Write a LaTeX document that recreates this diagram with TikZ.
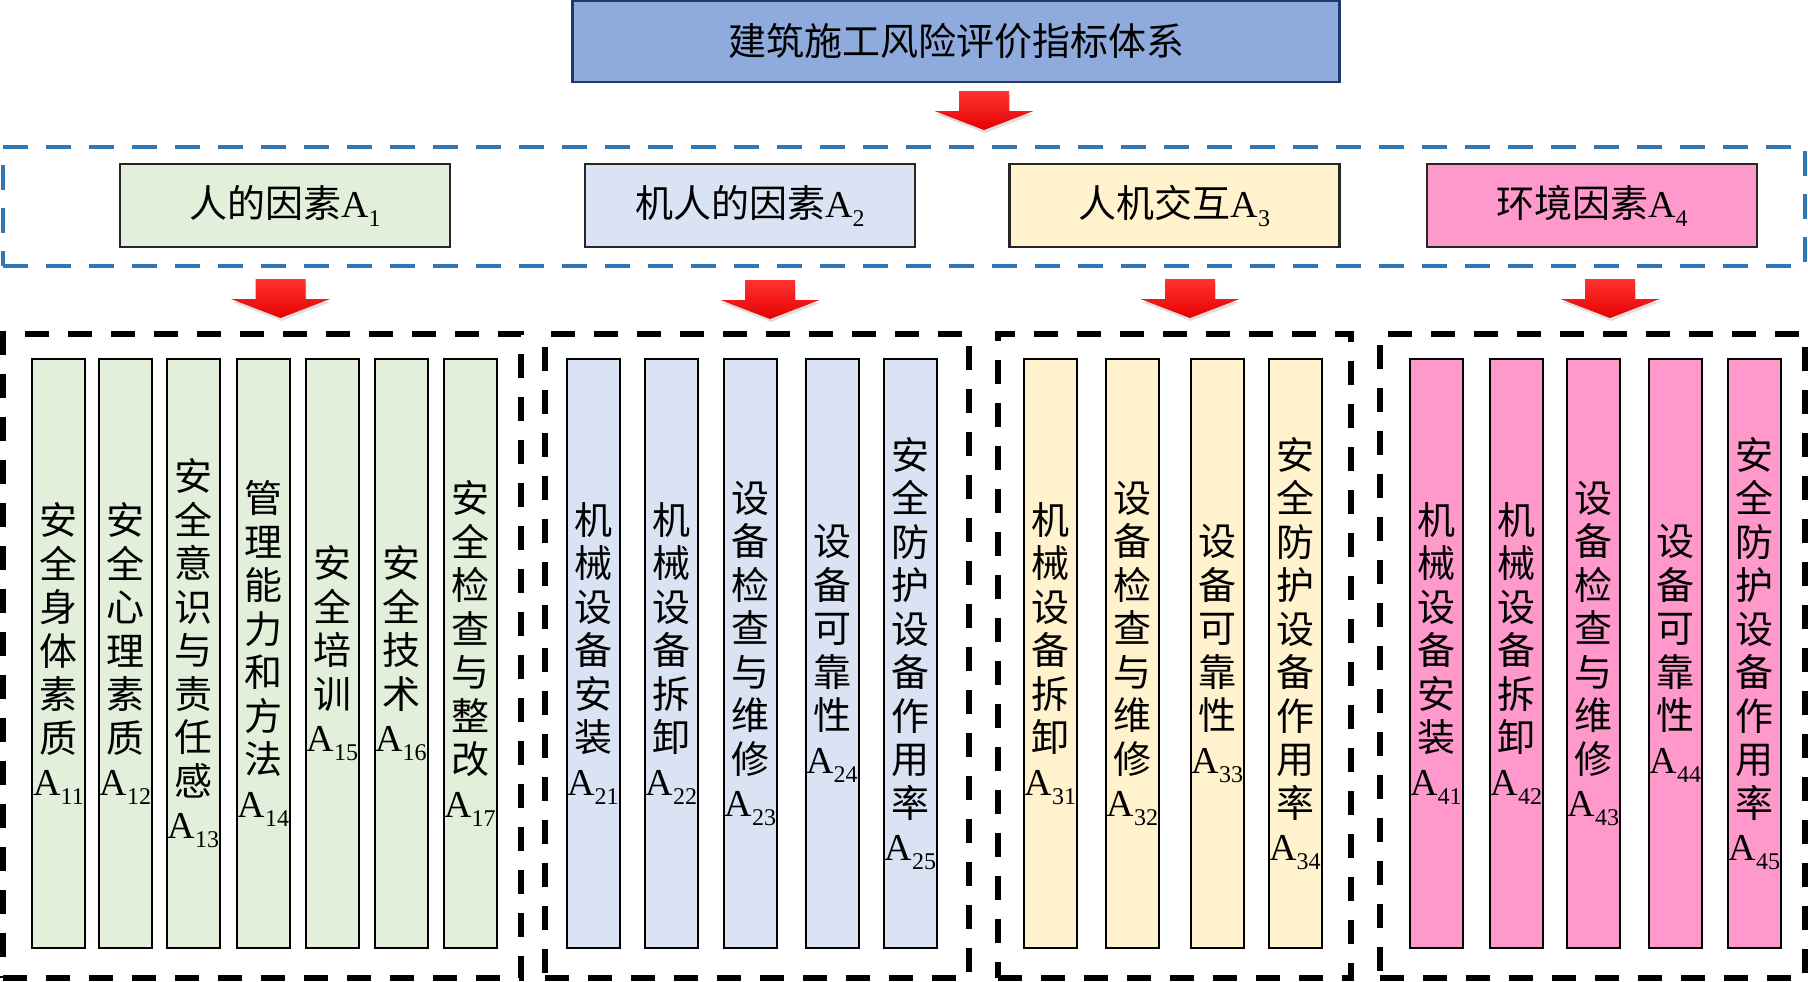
\documentclass[tikz,border=0pt]{standalone}
\usepackage{fontspec}
\setmainfont{Liberation Serif}
\newfontfamily\cjk{Noto Sans CJK SC}
\usepackage{tikz}
\usetikzlibrary{shadows}
\definecolor{rootblue}{RGB}{143,170,220}
\definecolor{rootline}{RGB}{31,56,100}
\definecolor{bandblue}{RGB}{46,117,182}
\definecolor{humangreen}{RGB}{226,239,218}
\definecolor{robotblue}{RGB}{218,227,243}
\definecolor{hriyellow}{RGB}{255,242,204}
\definecolor{envpink}{RGB}{255,153,204}
\definecolor{arrowred}{RGB}{255,0,0}
\newcommand{\Aidx}[1]{{\rmfamily A\raisebox{-4.5pt}{\fontsize{12}{12}\selectfont #1}}}

\begin{document}
\begin{tikzpicture}[x=0.5pt,y=-0.5pt,
 rootbox/.style={draw=rootline,line width=1.2pt,fill=rootblue,minimum width=383.5pt,minimum height=40.5pt,font=\cjk\fontsize{19}{22}\selectfont},
 factorbox/.style={draw=black!85,line width=1.2pt,minimum width=165pt,minimum height=41.5pt,font=\cjk\fontsize{19}{22}\selectfont},
 leafbox/.style={draw=black,line width=1pt,minimum width=26.5pt,minimum height=294.5pt,inner sep=0pt,align=center,font=\cjk\fontsize{19}{21.75}\selectfont},
 bandbox/.style={draw=bandblue,line width=2pt,dash pattern=on 12.5pt off 9pt,minimum width=901pt,minimum height=59.5pt},
 groupbox/.style={draw=black,line width=3pt,dash pattern=on 12pt off 9.5pt,minimum height=322pt},
 redarrow/.pic={\shade[top color=arrowred!80!white,bottom color=arrowred!90!black,drop shadow={opacity=0.25,shadow xshift=0.5pt,shadow yshift=-1.5pt}]
   (-25,0) -- (25,0) -- (25,20) -- (49.5,20) -- (0,39) -- (-49.5,20) -- (-25,20) -- cycle;}
]
\useasboundingbox (0,0) rectangle (1808,981);
% top level
\node[rootbox] (root) at (956,41.5) {建筑施工风险评价指标体系};
\pic at (984,91) {redarrow};
\node[bandbox] (band) at (904,206.5) {};
\node[factorbox,fill=humangreen] (A1) at (285,205.5) {人的因素\Aidx{1}};
\node[factorbox,fill=robotblue] (A2) at (750,205.5) {机人的因素\Aidx{2}};
\node[factorbox,fill=hriyellow] (A3) at (1174.5,205.5) {人机交互\Aidx{3}};
\node[factorbox,fill=envpink] (A4) at (1592,205.5) {环境因素\Aidx{4}};
\pic at (280.5,279) {redarrow}; \pic at (770,280) {redarrow};
\pic at (1190,279) {redarrow}; \pic at (1610,279) {redarrow};
% groups
\node[groupbox,minimum width=259pt] (g1) at (262,656) {};
\node[groupbox,minimum width=212pt] (g2) at (757,656) {};
\node[groupbox,minimum width=176.5pt] (g3) at (1174.5,656) {};
\node[groupbox,minimum width=212.5pt] (g4) at (1592.5,656) {};
% A1
\node[leafbox,fill=humangreen] (a11) at (58.5,653.5) {安\\全\\身\\体\\素\\质\\\Aidx{11}};
\node[leafbox,fill=humangreen] (a12) at (125.5,653.5) {安\\全\\心\\理\\素\\质\\\Aidx{12}};
\node[leafbox,fill=humangreen] (a13) at (193.5,653.5) {安\\全\\意\\识\\与\\责\\任\\感\\\Aidx{13}};
\node[leafbox,fill=humangreen] (a14) at (263.5,653.5) {管\\理\\能\\力\\和\\方\\法\\\Aidx{14}};
\node[leafbox,fill=humangreen] (a15) at (332.5,653.5) {安\\全\\培\\训\\\Aidx{15}};
\node[leafbox,fill=humangreen] (a16) at (401,653.5) {安\\全\\技\\术\\\Aidx{16}};
\node[leafbox,fill=humangreen] (a17) at (470,653.5) {安\\全\\检\\查\\与\\整\\改\\\Aidx{17}};
% A2
\node[leafbox,fill=robotblue] (a21) at (593,653.5) {机\\械\\设\\备\\安\\装\\\Aidx{21}};
\node[leafbox,fill=robotblue] (a22) at (671.5,653.5) {机\\械\\设\\备\\拆\\卸\\\Aidx{22}};
\node[leafbox,fill=robotblue] (a23) at (750.5,653.5) {设\\备\\检\\查\\与\\维\\修\\\Aidx{23}};
\node[leafbox,fill=robotblue] (a24) at (832,653.5) {设\\备\\可\\靠\\性\\\Aidx{24}};
\node[leafbox,fill=robotblue] (a25) at (910.5,653.5) {安\\全\\防\\护\\设\\备\\作\\用\\率\\\Aidx{25}};
% A3
\node[leafbox,fill=hriyellow] (a31) at (1050.5,653.5) {机\\械\\设\\备\\拆\\卸\\\Aidx{31}};
\node[leafbox,fill=hriyellow] (a32) at (1132.5,653.5) {设\\备\\检\\查\\与\\维\\修\\\Aidx{32}};
\node[leafbox,fill=hriyellow] (a33) at (1217.5,653.5) {设\\备\\可\\靠\\性\\\Aidx{33}};
\node[leafbox,fill=hriyellow] (a34) at (1295,653.5) {安\\全\\防\\护\\设\\备\\作\\用\\率\\\Aidx{34}};
% A4
\node[leafbox,fill=envpink] (a41) at (1436,653.5) {机\\械\\设\\备\\安\\装\\\Aidx{41}};
\node[leafbox,fill=envpink] (a42) at (1516.5,653.5) {机\\械\\设\\备\\拆\\卸\\\Aidx{42}};
\node[leafbox,fill=envpink] (a43) at (1593.5,653.5) {设\\备\\检\\查\\与\\维\\修\\\Aidx{43}};
\node[leafbox,fill=envpink] (a44) at (1675.5,653.5) {设\\备\\可\\靠\\性\\\Aidx{44}};
\node[leafbox,fill=envpink] (a45) at (1754.5,653.5) {安\\全\\防\\护\\设\\备\\作\\用\\率\\\Aidx{45}};
\end{tikzpicture}
\end{document}
